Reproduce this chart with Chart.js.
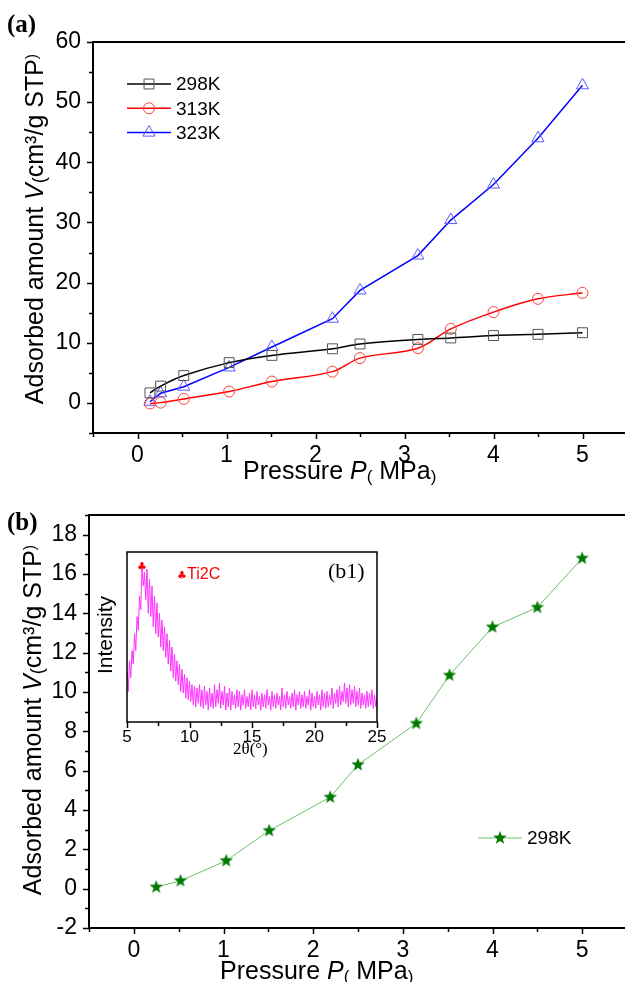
<!DOCTYPE html>
<html>
<head>
<meta charset="utf-8">
<script src="https://cdn.jsdelivr.net/npm/chart.js@4.4.0/dist/chart.umd.min.js"></script>
<style>
  html, body { margin: 0; padding: 0; background: #fff; overflow: hidden; width: 625px; height: 982px; }
  canvas { position: absolute; }
  #chartA { left: 0; top: 0; }
  #chartB { left: 0; top: 490px; }
  #chartC { left: 90px; top: 540px; }
</style>
</head>
<body>
<canvas id="chartA" width="640" height="490"></canvas>
<canvas id="chartB" width="640" height="492"></canvas>
<canvas id="chartC" width="300" height="230"></canvas>
<script>
// ===== Data: panel (a) =====
const pressureA = [0.14, 0.26, 0.52, 1.03, 1.51, 2.19, 2.5, 3.15, 3.52, 4.0, 4.5, 5.0];
const ads298 = [1.67, 2.8, 4.55, 6.7, 7.9, 9.0, 9.8, 10.55, 10.8, 11.2, 11.4, 11.67];
const ads313 = [-0.1, 0.05, 0.67, 1.9, 3.55, 5.2, 7.45, 9.1, 12.3, 15.1, 17.3, 18.3];
const ads323 = [0.2, 1.6, 2.7, 5.9, 9.3, 14.0, 18.7, 24.5, 30.4, 36.3, 44.0, 52.8];
const xTicksA = [0, 1, 2, 3, 4, 5];
const yTicksA = [0, 10, 20, 30, 40, 50, 60];

// ===== Data: panel (b) =====
const pressureB = [0.25, 0.52, 1.03, 1.51, 2.19, 2.5, 3.15, 3.52, 4.0, 4.5, 5.0];
const adsB298 = [0.08, 0.4, 1.42, 2.95, 4.65, 6.3, 8.4, 10.85, 13.3, 14.3, 16.8];
const xTicksB = [0, 1, 2, 3, 4, 5];
const yTicksB = [-2, 0, 2, 4, 6, 8, 10, 12, 14, 16, 18];

// ===== Data: inset (b1) XRD, 2theta from 5 to 25 step 0.1 =====
const xrdStart = 5, xrdStep = 0.1;
const xrdIntensity = [
  30, 18, 36, 26, 42, 34, 52, 42, 62, 54,
  74, 66, 92, 80, 88, 72, 90, 64, 84, 62,
  80, 56, 74, 52, 70, 50, 64, 44, 60, 42,
  56, 38, 52, 34, 48, 30, 44, 26, 40, 24,
  36, 22, 34, 18, 31, 17, 28, 14, 26, 13,
  24, 12, 22, 10, 21, 9, 20, 11, 22, 9,
  19, 8, 21, 10, 18, 7, 20, 9, 17, 8,
  22, 9, 19, 11, 23, 8, 18, 10, 21, 7,
  17, 9, 20, 7, 18, 10, 16, 8, 19, 9,
  18, 7, 16, 10, 19, 8, 15, 9, 17, 7,
  19, 9, 16, 8, 18, 10, 15, 7, 17, 9,
  16, 8, 19, 10, 15, 7, 18, 9, 16, 8,
  17, 10, 15, 7, 20, 9, 16, 8, 18, 10,
  15, 8, 17, 9, 19, 7, 16, 10, 18, 8,
  16, 9, 18, 8, 15, 10, 19, 7, 17, 9,
  15, 8, 18, 10, 16, 7, 19, 9, 17, 8,
  18, 9, 16, 10, 20, 8, 17, 11, 19, 9,
  21, 10, 18, 12, 23, 11, 20, 9, 22, 10,
  19, 11, 21, 9, 18, 10, 20, 8, 17, 10,
  16, 8, 18, 9, 17, 10, 19, 8, 16, 9,
  14
];
const xTicksC = [5, 10, 15, 20, 25];

const SANS = "'Liberation Sans', Arial, sans-serif";
const SERIF = "'Liberation Serif', 'Times New Roman', serif";

function makeStar(r, color) {
  const c = document.createElement('canvas');
  const s = Math.ceil(r * 2 + 2);
  c.width = c.height = s;
  const g = c.getContext('2d');
  g.beginPath();
  for (let i = 0; i < 10; i++) {
    const rr = i % 2 === 0 ? r : r * 0.42;
    const a = -Math.PI / 2 + i * Math.PI / 5;
    const px = s / 2 + rr * Math.cos(a), py = s / 2 + rr * Math.sin(a);
    i === 0 ? g.moveTo(px, py) : g.lineTo(px, py);
  }
  g.closePath();
  g.fillStyle = color;
  g.fill();
  return c;
}
const starImg = makeStar(7, '#007a00');

// text made of parts with own size / style / vertical shift
function richText(ctx, parts, x, y, angle, center) {
  ctx.save();
  ctx.translate(x, y);
  ctx.rotate(angle);
  ctx.textBaseline = 'alphabetic';
  ctx.textAlign = 'left';
  ctx.fillStyle = '#000';
  let w = 0;
  parts.forEach(p => {
    ctx.font = (p.style || '') + ' ' + p.size + 'px ' + (p.family || SANS);
    p.w = ctx.measureText(p.t).width;
    w += p.w;
  });
  let cx = center ? -w / 2 : 0;
  parts.forEach(p => {
    ctx.font = (p.style || '') + ' ' + p.size + 'px ' + (p.family || SANS);
    ctx.fillText(p.t, cx, p.dy || 0);
    cx += p.w;
  });
  ctx.restore();
}

const yTitleParts = () => [
  { t: 'Adsorbed amount ', size: 25 },
  { t: 'V', size: 25, style: 'italic' },
  { t: '(', size: 18, dy: 2 },
  { t: 'cm\u00b3/g STP', size: 25 },
  { t: ')', size: 16, dy: -6 }
];
const xTitleParts = () => [
  { t: 'Pressure ', size: 25 },
  { t: 'P', size: 25, style: 'italic' },
  { t: '(', size: 17, dy: 3 },
  { t: ' MPa', size: 25 },
  { t: ')', size: 17, dy: 3 }
];

// box, outward ticks (major + minor), titles, legend
const framePlugin = {
  id: 'frame',
  afterDraw(chart, args, o) {
    const { ctx, chartArea: a, scales } = chart;
    ctx.save();
    ctx.strokeStyle = '#000';
    ctx.lineWidth = o.boxWidth || 2;
    ctx.strokeRect(a.left, a.top, a.right - a.left, a.bottom - a.top);

    ctx.lineWidth = 1.5;
    const isMajor = (v, m) => Math.abs(v / m - Math.round(v / m)) < 1e-6;
    const xs = scales.x;
    for (let v = xs.min; v <= xs.max + 1e-9; v += o.xMinor) {
      const px = Math.round(xs.getPixelForValue(v)) + 0.5;
      const len = isMajor(v, o.xMajor) ? 6 : 4;
      ctx.beginPath(); ctx.moveTo(px, a.bottom); ctx.lineTo(px, a.bottom + len); ctx.stroke();
    }
    if (o.yMinor) {
      const ys = scales.y;
      for (let v = ys.min; v <= ys.max + 1e-9; v += o.yMinor) {
        const py = Math.round(ys.getPixelForValue(v)) + 0.5;
        const len = isMajor(v, o.yMajor) ? 6 : 4;
        ctx.beginPath(); ctx.moveTo(a.left, py); ctx.lineTo(a.left - len, py); ctx.stroke();
      }
    }

    if (o.yTitle) richText(ctx, yTitleParts(), o.yTitle.x, o.yTitle.y, -Math.PI / 2, true);
    if (o.xTitle) richText(ctx, xTitleParts(), o.xTitle.x, o.xTitle.y, 0, false);

    if (o.panel) {
      ctx.font = 'bold 25px ' + SERIF;
      ctx.fillStyle = '#000';
      ctx.textBaseline = 'alphabetic';
      ctx.fillText(o.panel.t, o.panel.x, o.panel.y);
    }

    if (o.legend) {
      const L = o.legend;
      chart.data.datasets.forEach((ds, i) => {
        const y = L.y + i * L.gap;
        ctx.strokeStyle = ds.borderColor;
        ctx.lineWidth = ds.borderWidth;
        ctx.beginPath(); ctx.moveTo(L.x0, y); ctx.lineTo(L.x1, y); ctx.stroke();
        ctx.strokeStyle = ds.pointBorderColor;
        ctx.fillStyle = ds.pointBackgroundColor;
        ctx.lineWidth = ds.pointBorderWidth;
        Chart.helpers.drawPoint(ctx, {
          pointStyle: ds.pointStyle, radius: ds.pointRadius, rotation: 0, borderWidth: ds.pointBorderWidth
        }, (L.x0 + L.x1) / 2, y);
        ctx.fillStyle = '#000';
        ctx.font = '19px ' + SANS;
        ctx.textBaseline = 'middle';
        ctx.fillText(ds.label, L.tx, y + 1);
      });
    }

    if (o.texts) {
      o.texts.forEach(t => {
        ctx.font = t.font;
        ctx.fillStyle = t.color;
        ctx.textBaseline = 'alphabetic';
        ctx.fillText(t.t, t.x, t.y);
      });
    }
    ctx.restore();
  }
};

function linAxis(min, max, ticks, size, fit, pad, hide) {
  return {
    type: 'linear', min, max,
    display: !hide,
    afterBuildTicks: s => { s.ticks = ticks.map(v => ({ value: v })); },
    afterFit: s => { if (s.isHorizontal()) s.height = fit; else s.width = fit; },
    grid: { display: false, drawTicks: true, tickLength: 6 },
    border: { display: false },
    ticks: { color: '#000', font: { family: SANS, size }, padding: pad, maxRotation: 0, autoSkip: false }
  };
}

const baseOpts = {
  responsive: false,
  animation: false,
  devicePixelRatio: 1,
  plugins: { legend: { display: false }, tooltip: { enabled: false } }
};

// ===== Panel (a) =====
new Chart(document.getElementById('chartA'), {
  type: 'line',
  data: {
    datasets: [
      {
        label: '298K', data: pressureA.map((x, i) => ({ x, y: ads298[i] })),
        borderColor: '#000', borderWidth: 1.5, tension: 0.35,
        pointStyle: 'rect', pointRadius: 7, pointBorderColor: '#555', pointBorderWidth: 1,
        pointBackgroundColor: 'rgba(0,0,0,0)'
      },
      {
        label: '313K', data: pressureA.map((x, i) => ({ x, y: ads313[i] })),
        borderColor: '#ff0000', borderWidth: 1.5, tension: 0.35,
        pointStyle: 'circle', pointRadius: 5.5, pointBorderColor: '#ff4040', pointBorderWidth: 1,
        pointBackgroundColor: 'rgba(0,0,0,0)'
      },
      {
        label: '323K', data: pressureA.map((x, i) => ({ x, y: ads323[i] })),
        borderColor: '#0000ff', borderWidth: 1.5, tension: 0,
        pointStyle: 'triangle', pointRadius: 7, pointBorderColor: '#5a5aff', pointBorderWidth: 1,
        pointBackgroundColor: 'rgba(0,0,0,0)'
      }
    ]
  },
  options: {
    ...baseOpts,
    layout: { padding: { left: 0, right: 13, top: 42, bottom: 7 } },
    scales: {
      x: linAxis(-0.5, 5.5, xTicksA, 23, 50, 3),
      y: linAxis(-5, 60, yTicksA, 23, 93, 6)
    },
    plugins: {
      ...baseOpts.plugins,
      frame: {
        xMinor: 0.5, xMajor: 1, yMinor: 5, yMajor: 10,
        yTitle: { x: 43, y: 229 },
        xTitle: { x: 243, y: 479 },
        panel: { t: '(a)', x: 7, y: 32 },
        legend: { x0: 127, x1: 171, tx: 176, y: 84, gap: 24.3 }
      }
    }
  },
  plugins: [framePlugin]
});

// ===== Panel (b) =====
new Chart(document.getElementById('chartB'), {
  type: 'line',
  data: {
    datasets: [
      {
        label: '298K', data: pressureB.map((x, i) => ({ x, y: adsB298[i] })),
        borderColor: '#6cbf6c', borderWidth: 1, tension: 0,
        pointStyle: starImg, pointRadius: 7, pointBorderColor: '#007a00', pointBorderWidth: 1,
        pointBackgroundColor: '#007a00'
      }
    ]
  },
  options: {
    ...baseOpts,
    layout: { padding: { left: 0, right: 13, top: 25, bottom: 4 } },
    scales: {
      x: linAxis(-0.5, 5.5, xTicksB, 23, 50, 3),
      y: linAxis(-2, 19, yTicksB, 23, 89, 6)
    },
    plugins: {
      ...baseOpts.plugins,
      frame: {
        xMinor: 0.5, xMajor: 1, yMinor: 1, yMajor: 2,
        yTitle: { x: 41, y: 230 },
        xTitle: { x: 220, y: 489 },
        panel: { t: '(b)', x: 7, y: 40 },
        legend: { x0: 478, x1: 522, tx: 527, y: 348, gap: 0 }
      }
    }
  },
  plugins: [framePlugin]
});

// ===== Inset (b1) =====
new Chart(document.getElementById('chartC'), {
  type: 'line',
  data: {
    datasets: [{
      label: 'XRD',
      data: xrdIntensity.map((y, i) => ({ x: xrdStart + i * xrdStep, y })),
      borderColor: '#ff33ff', borderWidth: 1, tension: 0, pointRadius: 0
    }]
  },
  options: {
    ...baseOpts,
    layout: { padding: { left: 37, right: 13, top: 12, bottom: 18 } },
    scales: {
      x: linAxis(5, 25, xTicksC, 17, 30, -1),
      y: { type: 'linear', min: 0, max: 100, display: false }
    },
    plugins: {
      ...baseOpts.plugins,
      frame: {
        boxWidth: 1.5,
        xMinor: 2.5, xMajor: 5,
        texts: [
          { t: '2\u03b8(\u00b0)', x: 143, y: 214, font: '17px ' + SERIF, color: '#000' },
          { t: '(b1)', x: 238, y: 38, font: '22px ' + SERIF, color: '#000' },
          { t: '\u2663', x: 47, y: 30, font: '11px DejaVu Sans', color: '#ff0000' },
          { t: '\u2663', x: 87, y: 39, font: '11px DejaVu Sans', color: '#ff0000' },
          { t: 'Ti2C', x: 97, y: 39, font: '16px ' + SANS, color: '#ff0000' }
        ]
      }
    }
  },
  plugins: [framePlugin, {
    id: 'intensityLabel',
    afterDraw(chart) {
      const ctx = chart.ctx;
      ctx.save();
      ctx.translate(22, 95);
      ctx.rotate(-Math.PI / 2);
      ctx.font = '21px ' + SANS;
      ctx.fillStyle = '#000';
      ctx.textAlign = 'center';
      ctx.textBaseline = 'alphabetic';
      ctx.fillText('Intensity', 0, 0);
      ctx.restore();
    }
  }]
});
</script>
</body>
</html>
